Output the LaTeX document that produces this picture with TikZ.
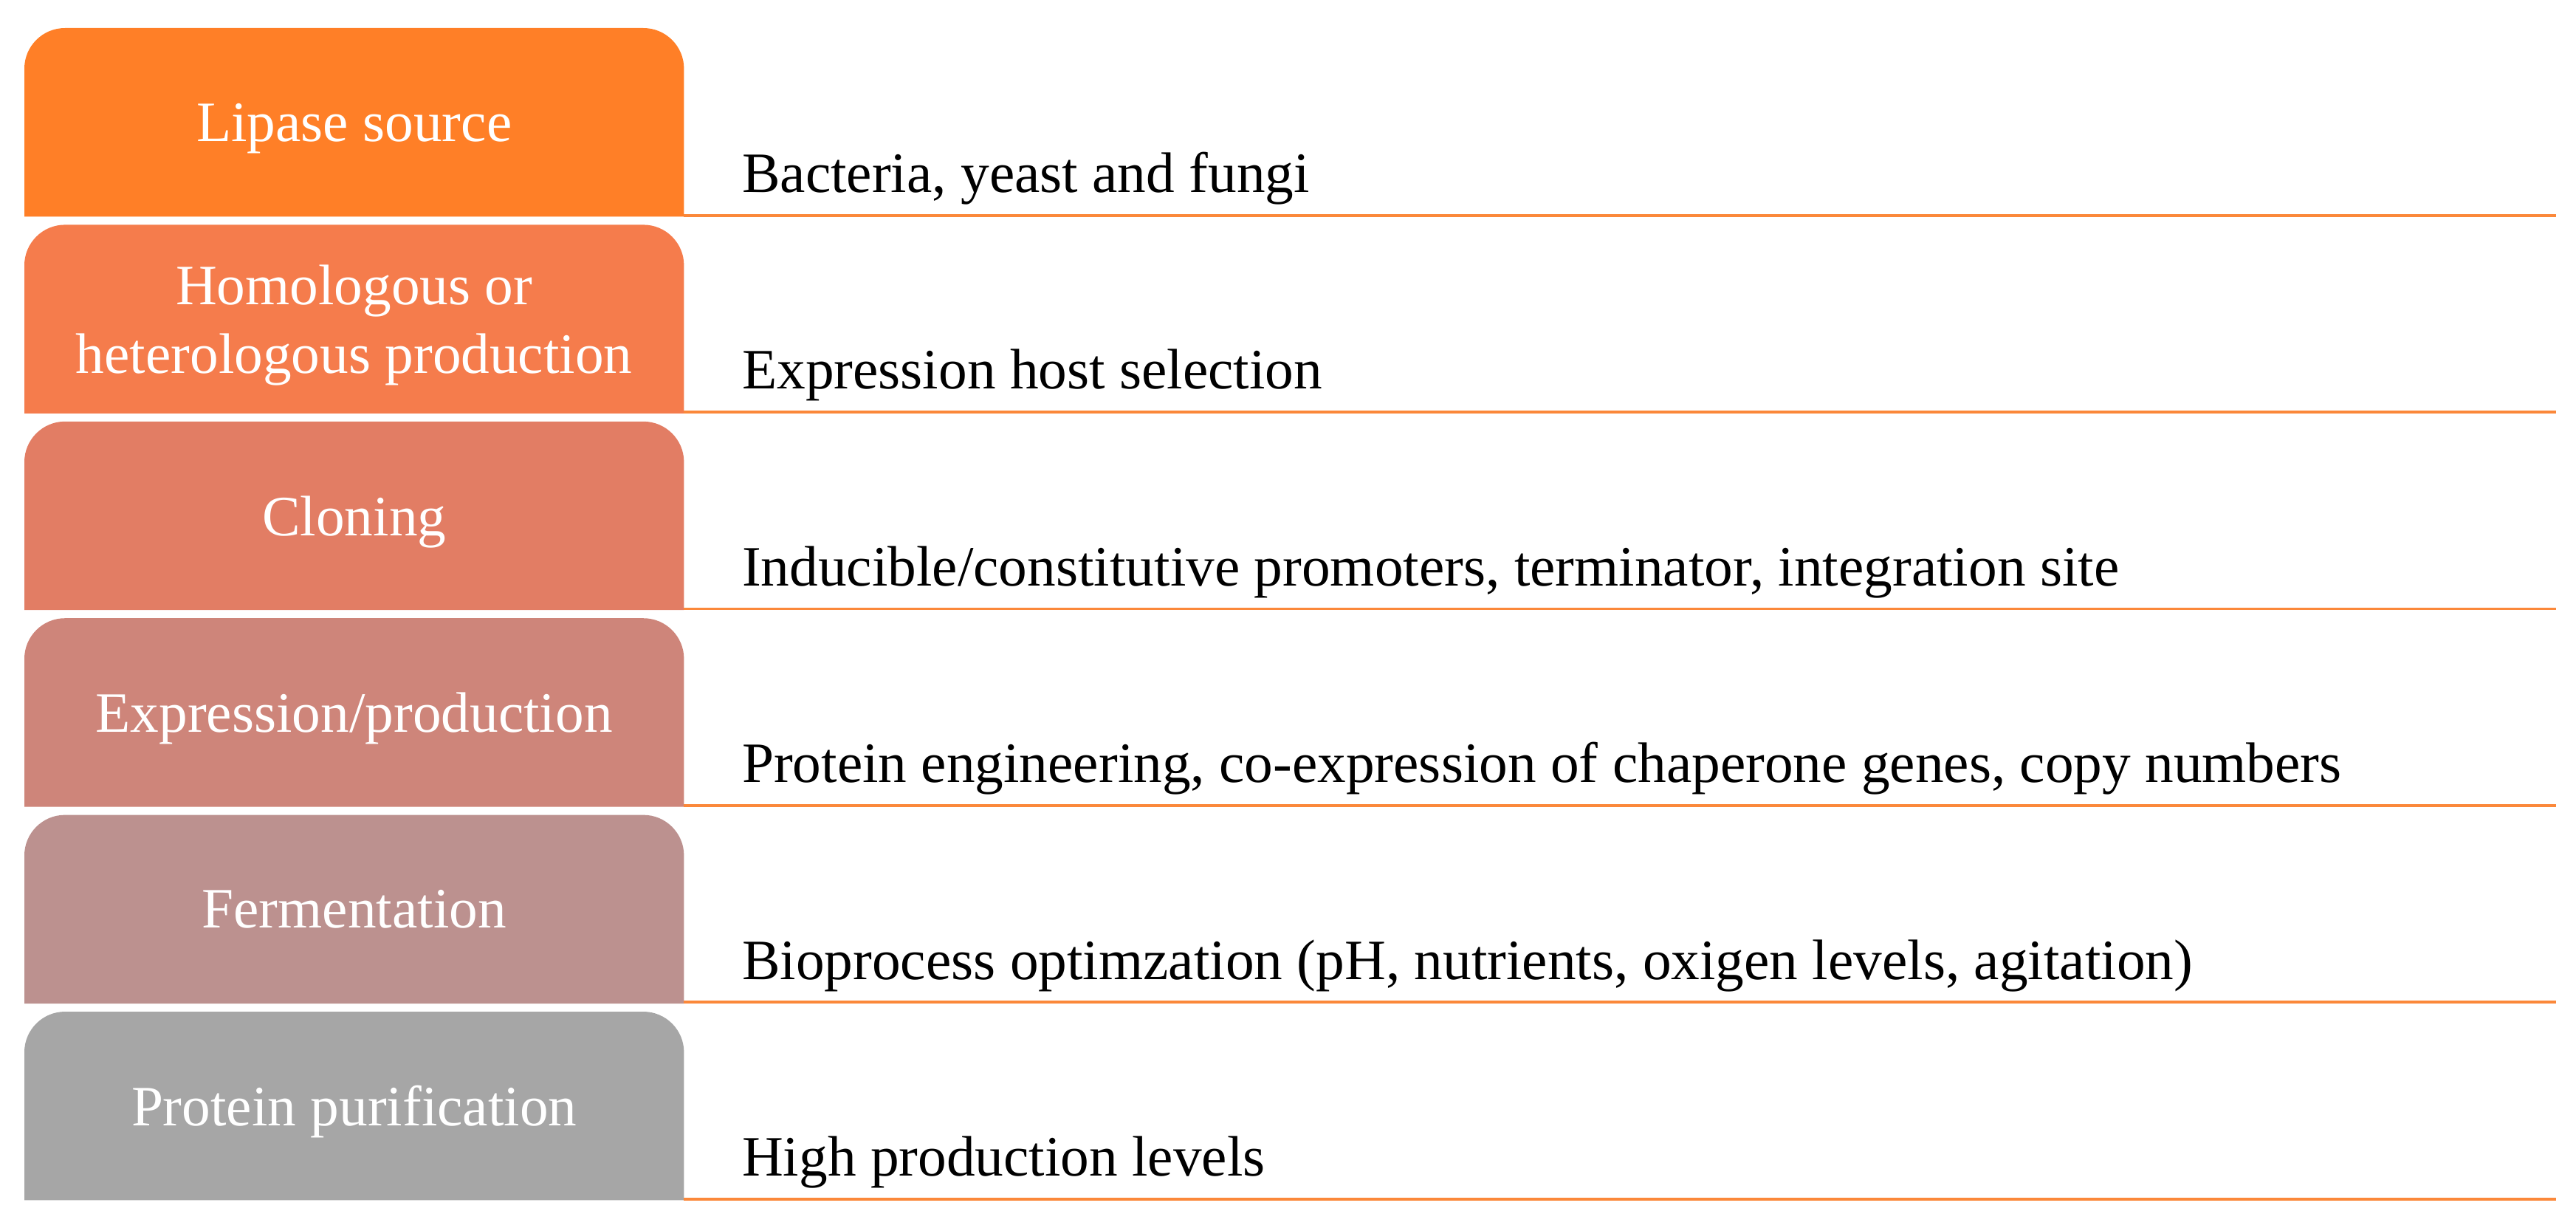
\documentclass[tikz,border=0pt]{standalone}
\usepackage{fontspec}
\setmainfont{Liberation Serif}
\usetikzlibrary{positioning,backgrounds}

\definecolor{srcorange}{RGB}{255,127,39}
\definecolor{hostorange}{RGB}{245,124,76}
\definecolor{cloncoral}{RGB}{226,125,100}
\definecolor{exprrose}{RGB}{206,133,122}
\definecolor{fermmauve}{RGB}{188,145,143}
\definecolor{purifgray}{RGB}{166,166,166}
\definecolor{rulecolor}{RGB}{251,136,58}

\newcommand{\stagefont}{\fontsize{22}{26.7}\selectfont}
\newcommand{\remarkfont}{\fontsize{22}{26.7}\selectfont}
\newcommand{\stagebg}[2]{\fill[#2] (#1.south west) [rounded corners=0.55cm] -- (#1.north west) -- (#1.north east) [sharp corners] -- (#1.south east) -- cycle;}

\tikzset{
    stage/.style={minimum width=8.92cm, minimum height=2.54cm, inner sep=0pt,
        text=white, align=center, font=\stagefont, text depth=0pt},
    remark/.style={anchor=base west, inner sep=0pt, font=\remarkfont},
    rule/.style={draw=rulecolor, line width=1.1pt},
}

\begin{document}
\begin{tikzpicture}
    \useasboundingbox (0,0) rectangle (34.89,-16.63);
    \coordinate (edge) at (34.62,0);

    \node[stage, anchor=north west] (src) at (0.33,-0.38) {Lipase source};
    \node[stage, below=0.11cm of src] (host) {Homologous or\\heterologous production};
    \node[stage, below=0.11cm of host] (clon) {Cloning};
    \node[stage, below=0.11cm of clon] (expr) {Expression/production};
    \node[stage, below=0.11cm of expr] (ferm) {Fermentation};
    \node[stage, below=0.11cm of ferm] (purif) {Protein purification};

    \begin{scope}[on background layer]
        \stagebg{src}{srcorange}
        \stagebg{host}{hostorange}
        \stagebg{clon}{cloncoral}
        \stagebg{expr}{exprrose}
        \stagebg{ferm}{fermmauve}
        \stagebg{purif}{purifgray}
    \end{scope}

    \node[remark] (srcnote) at ([xshift=0.78cm, yshift=0.33cm]src.south east) {Bacteria, yeast and fungi};
    \node[remark] (hostnote) at ([xshift=0.78cm, yshift=0.33cm]host.south east) {Expression host selection};
    \node[remark] (clonnote) at ([xshift=0.78cm, yshift=0.33cm]clon.south east) {Inducible/constitutive promoters, terminator, integration site};
    \node[remark] (exprnote) at ([xshift=0.78cm, yshift=0.33cm]expr.south east) {Protein engineering, co-expression of chaperone genes, copy numbers};
    \node[remark] (fermnote) at ([xshift=0.78cm, yshift=0.33cm]ferm.south east) {Bioprocess optimzation (pH, nutrients, oxigen levels, agitation)};
    \node[remark] (purifnote) at ([xshift=0.78cm, yshift=0.33cm]purif.south east) {High production levels};

    \draw[rule] ([yshift=0.5pt]src.south east) -- ([yshift=0.5pt]src.south east -| edge);
    \draw[rule] ([yshift=0.5pt]host.south east) -- ([yshift=0.5pt]host.south east -| edge);
    \draw[rule] ([yshift=0.5pt]clon.south east) -- ([yshift=0.5pt]clon.south east -| edge);
    \draw[rule] ([yshift=0.5pt]expr.south east) -- ([yshift=0.5pt]expr.south east -| edge);
    \draw[rule] ([yshift=0.5pt]ferm.south east) -- ([yshift=0.5pt]ferm.south east -| edge);
    \draw[rule] ([yshift=0.5pt]purif.south east) -- ([yshift=0.5pt]purif.south east -| edge);
\end{tikzpicture}
\end{document}
